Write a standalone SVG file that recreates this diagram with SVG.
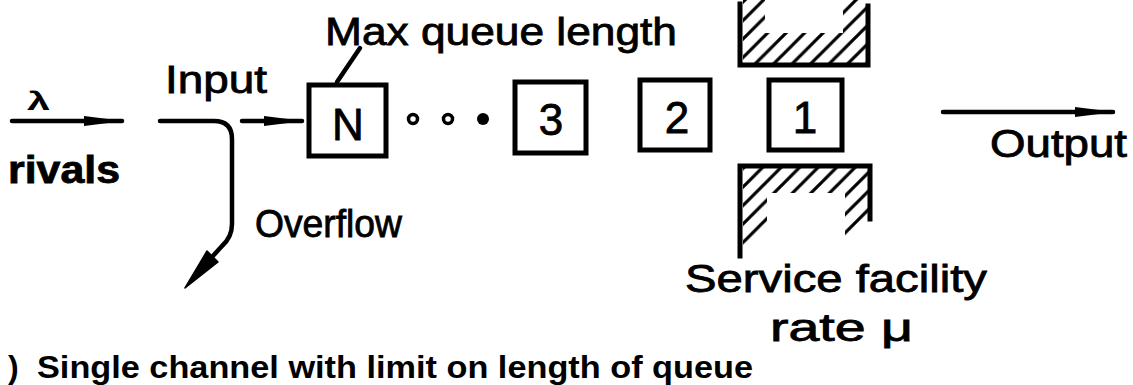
<svg xmlns="http://www.w3.org/2000/svg" width="1133" height="385" viewBox="0 0 1133 385">
<style>
.t{font-family:"Liberation Sans","DejaVu Sans",sans-serif;fill:#000}
.lbl{font-size:38px;stroke:#000;stroke-width:0.8}
.b{font-weight:bold}
.dig{font-size:44px;text-anchor:middle;stroke:#000;stroke-width:0.8}
.ln{fill:none;stroke:#000;stroke-width:4.5;stroke-linecap:round;stroke-linejoin:round}
.box{fill:#fff;stroke:#000;stroke-width:5}
.wall{fill:none;stroke:#000;stroke-width:5;stroke-linecap:square}
</style>
<defs>
<marker id="ah" viewBox="0 0 40 14" refX="38" refY="7" markerWidth="40" markerHeight="14" markerUnits="userSpaceOnUse" orient="auto">
<path d="M0,2 L40,7 L0,12 Z" fill="#000"/>
</marker>
<pattern id="hatch" patternUnits="userSpaceOnUse" width="18.5" height="18.5" x="745" y="0">
<path d="M-2,20.5 L20.5,-2 M-2,2 L2,-2 M16.5,20.5 L20.5,16.5" stroke="#000" stroke-width="3.2"/>
</pattern>
<clipPath id="ctop"><polygon points="743,0 765,0 765,33 843,33 843,0 866,0 866,63 743,63"/></clipPath>
<clipPath id="cbot"><polygon points="743,168 868,168 868,218 850,238 845,236 845,193 767,193 767,228 743,254"/></clipPath>
</defs>
<rect width="1133" height="385" fill="#fff"/>

<g id="connectors">
<line class="ln" x1="12" y1="121" x2="122" y2="121" marker-end="url(#ah)"/>
<path class="ln" d="M160,121 L214,121 Q232,121 232,139 L232,224 Q232,237 222,246 L212,257" stroke-width="5"/>
<polygon points="185,288 218,262 207,251" fill="#000" stroke="#000" stroke-width="1.5" stroke-linejoin="round"/>
<line class="ln" x1="242" y1="121" x2="302" y2="121" marker-end="url(#ah)"/>
<line class="ln" x1="943" y1="112" x2="1113" y2="112" marker-end="url(#ah)"/>
<line class="ln" x1="360" y1="48" x2="337" y2="82" stroke-width="3.5"/>
</g>

<g id="node-N">
<rect class="box" x="309" y="85" width="77" height="71"/>
<text class="t dig" x="348" y="140">N</text>
</g>

<g id="dots">
<circle cx="413" cy="119" r="4.5" fill="#fff" stroke="#000" stroke-width="3.5"/>
<circle cx="448" cy="119" r="4.5" fill="#fff" stroke="#000" stroke-width="3.5"/>
<circle cx="483" cy="119" r="6" fill="#000"/>
</g>

<g id="node-3">
<rect class="box" x="515" y="82" width="71" height="71"/>
<text class="t dig" x="551" y="135">3</text>
</g>

<g id="node-2">
<rect class="box" x="640" y="80" width="70" height="70"/>
<text class="t dig" x="677" y="133">2</text>
</g>

<g id="node-1">
<rect class="box" x="769" y="80" width="73" height="70"/>
<text class="t dig" x="805" y="133">1</text>
</g>

<g id="service-facility">
<rect x="740" y="0" width="130" height="66" fill="url(#hatch)" clip-path="url(#ctop)"/>
<path class="wall" d="M740,4 L740,65 L868,65 L868,6"/>
<rect x="740" y="166" width="132" height="92" fill="url(#hatch)" clip-path="url(#cbot)"/>
<path class="wall" d="M740,256 L740,166 L870,166 L870,219"/>
</g>

<g id="labels">
<text class="t b" x="27" y="110" font-size="26" textLength="23" lengthAdjust="spacingAndGlyphs">λ</text>
<text class="t lbl b" x="8" y="183" textLength="112" lengthAdjust="spacingAndGlyphs" stroke-width="0">rivals</text>
<text class="t lbl" x="165" y="93" textLength="102" lengthAdjust="spacingAndGlyphs">Input</text>
<text class="t lbl" x="325" y="45" textLength="352" lengthAdjust="spacingAndGlyphs">Max queue length</text>
<text class="t lbl" x="255" y="237" textLength="147" lengthAdjust="spacingAndGlyphs">Overflow</text>
<text class="t lbl" x="990" y="157" textLength="137" lengthAdjust="spacingAndGlyphs">Output</text>
<text class="t lbl" x="685" y="292" textLength="302" lengthAdjust="spacingAndGlyphs">Service facility</text>
<text class="t lbl" x="770" y="341" textLength="143" lengthAdjust="spacingAndGlyphs">rate μ</text>
<text class="t b" x="8" y="378" font-size="32">)</text>
<text class="t b" x="37" y="378" font-size="32" textLength="716" lengthAdjust="spacingAndGlyphs">Single channel with limit on length of queue</text>
</g>
</svg>
